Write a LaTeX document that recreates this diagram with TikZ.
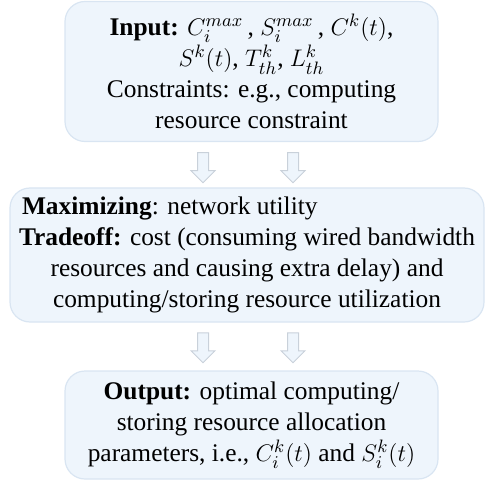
\documentclass[tikz,border=0pt]{standalone}
\usepackage{fontspec}
\setmainfont{Liberation Serif}
\usepackage{amsmath}
\usetikzlibrary{positioning,shapes.arrows}
\definecolor{boxfill}{HTML}{EEF5FC}
\definecolor{boxline}{HTML}{D9E5F2}
\definecolor{arrline}{HTML}{C9D1DA}

\begin{document}
\begin{tikzpicture}[x=0.5pt, y=-0.5pt,
		stage/.style={rectangle, rounded corners=10pt, fill=boxfill, draw=boxline, line width=0.6pt,
			align=center, inner sep=0pt, font=\fontsize{12.7}{15.5}\selectfont},
		downarrow/.style={single arrow, shape border rotate=270, fill=boxfill, draw=arrline,
			line width=0.5pt, minimum height=15pt, inner sep=2.5pt, single arrow head extend=3.25pt}]
		\useasboundingbox (0,0) rectangle (485,480);
		% the three stages
		\node[stage, minimum width=186.5pt, minimum height=70pt] (input) at (251.5,71.5)
		{\textbf{Input:} $C_i^{max}$\,, $S_i^{max}$\,, $C^k(t)$,\\
			$S^k(t)$, $T_{th}^k$, $L_{th}^k$\\
			Constraints: e.g., computing\\
			resource constraint};
		\node[stage, minimum width=237pt, minimum height=67pt] (tradeoff) at (247,255)
		{\makebox[225pt][l]{\textbf{Maximizing}: network utility}\\
			\textbf{Tradeoff:} cost (consuming wired bandwidth\\
			resources and causing extra delay) and\\
			computing/storing resource utilization};
		\node[stage, minimum width=186.5pt, minimum height=54pt] (output) at (251.5,425)
		{\textbf{Output:} optimal computing/\\
			storing resource allocation\\
			parameters, i.e., $C_i^k(t)$ and $S_i^k(t)$};
		% block arrows between stages
		\node[downarrow] (a1) at (203,165) {};
		\node[downarrow] (a2) at (293,165) {};
		\node[downarrow] (a3) at (203,345) {};
		\node[downarrow] (a4) at (293,345) {};
	\end{tikzpicture}
\end{document}
